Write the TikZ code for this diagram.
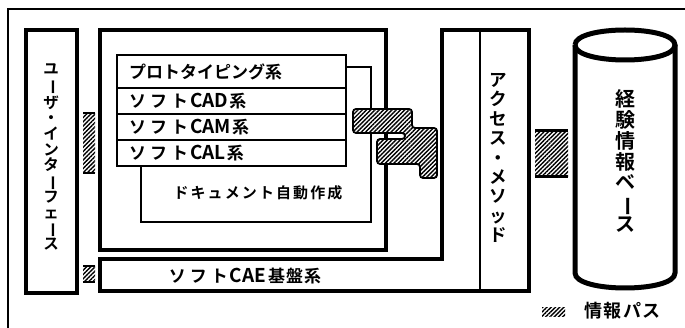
\documentclass[tikz,border=0pt]{standalone}
\usepackage{fontspec}
\newfontfamily\jp{Noto Sans CJK JP}[BoldFont={Noto Sans CJK JP Bold}]
\usetikzlibrary{patterns.meta}
\newcommand{\vchoon}{\rotatebox[origin=c]{-90}{ー}}
\newcommand{\gp}[1]{\hspace{#1pt}}
\tikzset{
  heavy/.style={line width=4.5pt},
  light/.style={line width=1.8pt},
  hatch/.style={preaction={fill=white}, pattern={Lines[angle=45,distance=3pt,line width=1.4pt]}},
  lab/.style={inner sep=0pt, font=\jp\bfseries\fontsize{17}{20}\selectfont},
  vlab/.style={inner sep=0pt, align=center},
}
\begin{document}
\begin{tikzpicture}[x=1pt,y=-1pt]
\useasboundingbox (0,0) rectangle (685,328);
\clip (0,0) rectangle (685,328);
% outer frame
\draw[line width=1.6pt] (8,340) -- (8,9) -- (700,9);
% user interface box
\draw[heavy] (26,30) rectangle (77,293);
% application box
\draw[heavy] (100,30) rectangle (386,250);
% base system L-shape
\draw[heavy] (100,259) -- (442,259) -- (442,30) -- (529,30) -- (529,291) -- (100,291) -- cycle;
\draw[light] (480,30) -- (480,291);
% document box
\draw[light] (346,67) -- (371,67) -- (371,222) -- (141,222) -- (141,166);
% stack
\draw[light, fill=white] (117,55) rectangle (346,166);
\draw[light] (117,88) -- (346,88) (117,114) -- (346,114) (117,140) -- (346,140);
% cylinder
\draw[line width=5pt] (575,45) -- (575,273) .. controls (575,293) and (675,293) .. (675,273) -- (675,45);
\draw[line width=5pt] (575,45) .. controls (575,25) and (675,25) .. (675,45) .. controls (675,65) and (575,65) .. (575,45);
% hatched information paths
\fill[hatch] (83,113) rectangle (95,173);
\draw[line width=2pt] (83,113) -- (95,113) (83,173) -- (95,173);
\fill[hatch] (83,266) rectangle (95,282);
\draw[line width=2pt] (83,266) -- (95,266) (83,282) -- (95,282);
\fill[hatch] (535,131) rectangle (568,177);
\draw[line width=3pt] (535,131) -- (568,131) (535,177) -- (568,177);
\draw[line width=1.8pt, hatch, rounded corners=3pt] (353,109) -- (412,109) -- (412,128) -- (437,128) -- (437,178) -- (420,178) -- (420,164) -- (377,164) -- (377,139) -- (405,139) -- (405,133) -- (353,133) -- cycle;
\fill[hatch] (542,308) rectangle (565,317);
% texts
\node[lab, anchor=west] (r1) at (129,71.5) {プロトタイピング系};
\node[lab, anchor=west] (r2) at (129,101) {ソ\gp{4}フ\gp{4}ト\gp{2}{\fontsize{19}{20}\selectfont CAD}\gp{1}系};
\node[lab, anchor=west] (r3) at (129,127) {ソ\gp{4}フ\gp{4}ト\gp{2}{\fontsize{19}{20}\selectfont CAM}\gp{1}系};
\node[lab, anchor=west] (r4) at (129,153) {ソ\gp{4}フ\gp{4}ト\gp{2}{\fontsize{19}{20}\selectfont CAL}\gp{1}系};
\node[lab, font=\jp\bfseries\fontsize{15}{18}\selectfont\addfontfeatures{LetterSpace=14}] (doc) at (258,193) {ドキュメント自動作成};
\node[lab] (base) at (245,276) {ソ\gp{4}フ\gp{4}ト\gp{2}{\fontsize{19}{20}\selectfont CAE}\gp{2}基\gp{1}盤\gp{1}系};
\node[vlab, font=\jp\bfseries\fontsize{15.5}{15.7}\selectfont] (ui) at (51,157) {ユ\\\vchoon\\ザ\\・\\イ\\ン\\タ\\\vchoon\\フ\\ェ\\\vchoon\\ス};
\node[vlab, font=\jp\bfseries\fontsize{17.5}{19.4}\selectfont] (acc) at (498,158) {ア\\ク\\セ\\ス\\・\\メ\\ソ\\ッ\\ド};
\node[vlab, font=\jp\bfseries\fontsize{20}{20.8}\selectfont] (db) at (625,161) {経\\験\\情\\報\\ベ\\\vchoon\\ス};
\node[lab, anchor=west, font=\jp\bfseries\fontsize{18}{20}\selectfont\addfontfeatures{LetterSpace=8}] (leg) at (584,311) {情報パス};
\end{tikzpicture}
\end{document}
